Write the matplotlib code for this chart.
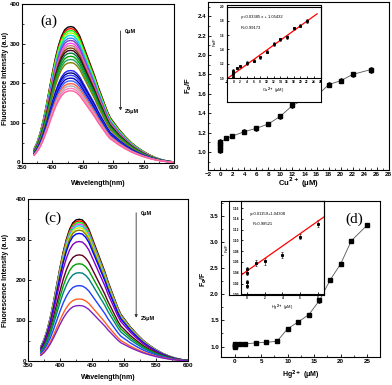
import matplotlib
matplotlib.use("Agg")
import matplotlib.pyplot as plt
from matplotlib.ticker import MultipleLocator, AutoMinorLocator

plt.rcParams['font.family'] = ['Liberation Sans', 'DejaVu Sans']
plt.rcParams['font.weight'] = 'bold'

W, H = 392, 385

# normalised emission profile (peak ~ 430 nm)
wl = [370, 375, 380, 385, 390, 395, 400, 405, 410, 415, 420, 425, 430, 435,
      440, 445, 450, 455, 460, 465, 470, 475, 480, 485, 490, 495, 500, 510,
      520, 530, 540, 550, 560, 570, 580, 590, 600]
shape = [0.10, 0.15, 0.22, 0.31, 0.42, 0.54, 0.66, 0.77, 0.86, 0.93, 0.975,
         0.995, 1.0, 0.995, 0.97, 0.93, 0.87, 0.81, 0.75, 0.69, 0.63, 0.56,
         0.50, 0.44, 0.38, 0.33, 0.30, 0.24, 0.19, 0.145, 0.11, 0.08, 0.055,
         0.035, 0.02, 0.01, 0.004]

# (a) Cu2+ titration peaks
peaks_a = [343, 338, 333, 327, 321, 314, 308, 301, 295, 289, 283, 276, 268,
           260, 252, 232, 226, 220, 213, 206, 199, 193, 187, 181]
colors_a = ['black', 'red', '#00ff00', '#a0ff00', '#00e0e0', '#4080ff',
            '#8040c0', '#ff40ff', '#c08080', '#804000', '#400020', '#008040',
            '#00a000', '#20a060', '#808000', '#2020ff', '#000080', '#3040ff',
            '#0000c0', '#4060ff', '#ff6040', '#b0b0b0', '#ff80c0', '#ff60a0']

# (c) Hg2+ titration peaks
peaks_c = [350, 346, 342, 338, 334, 329, 323, 315, 295, 262, 240, 218, 186,
           153, 137]
colors_c = ['black', 'red', '#00ff00', '#ff40ff', '#00e0e0', '#e0e000',
            '#808000', '#0000ff', '#8000c0', '#600020', '#00a000', '#008080',
            '#2040ff', '#ff6020', '#8020c0']

# (b) F0/F vs Cu2+
xb = [0, 0, 0, 0, 1, 2, 4, 6, 8, 10, 12, 14, 16, 18, 20, 22, 25]
yb = [1.02, 1.05, 1.08, 1.10, 1.14, 1.165, 1.21, 1.245, 1.29, 1.37, 1.48,
      1.545, 1.575, 1.695, 1.735, 1.80, 1.85]
eb = [0.03, 0.03, 0.03, 0.03, 0.02, 0.02, 0.025, 0.025, 0.02, 0.025, 0.025,
      0.02, 0.025, 0.025, 0.025, 0.025, 0.03]
fit_b = (0.03385, 1.05432)

# (d) F0/F vs Hg2+
xd = [0, 0, 0, 0, 1, 2, 4, 6, 8, 10, 12, 14, 16, 18, 20, 22, 25]
yd = [0.99, 1.01, 1.03, 1.05, 1.04, 1.05, 1.07, 1.08, 1.10, 1.34, 1.47, 1.61,
      1.88, 2.27, 2.58, 3.02, 3.32]
ed = [0.04, 0.04, 0.04, 0.04, 0.03, 0.03, 0.03, 0.03, 0.03, 0.04, 0.04, 0.04,
      0.04, 0.04, 0.04, 0.04, 0.04]
xdi = [0, 0, 0, 0, 1, 2, 4, 6, 8]
ydi = [1.016, 1.022, 1.040, 1.046, 1.058, 1.061, 1.073, 1.107, 1.131]
edi = [0.005, 0.005, 0.005, 0.005, 0.005, 0.006, 0.005, 0.005, 0.006]
fit_d = (0.01159, 1.04308)

fig = plt.figure(figsize=(W / 100, H / 100), dpi=100)


def px_axes(l, t, r, b):
    return fig.add_axes([l / W, 1 - b / H, (r - l) / W, (b - t) / H])


def style(ax, size=4.5, length=2.5):
    ax.tick_params(direction='in', labelsize=size, length=length, width=0.6,
                   pad=1.5)
    ax.tick_params(which='minor', direction='in', length=length * 0.6,
                   width=0.5)
    for s in ax.spines.values():
        s.set_linewidth(0.8)
    for lab in ax.get_xticklabels() + ax.get_yticklabels():
        lab.set_fontweight('bold')


def place_labels(ax, xl_y, yl_x, yl_y=0.5):
    # put axis label centres at given axes-fraction positions
    ax.xaxis.set_label_coords(0.5, xl_y)
    ax.yaxis.set_label_coords(yl_x, yl_y)
    ax.xaxis.label.set_va('center')
    ax.yaxis.label.set_va('center')


def spectra(ax, peaks, colors, arrow_x, arrow_top, arrow_bot):
    for p, c in zip(peaks, colors):
        ax.plot(wl, [p * s for s in shape], color=c, lw=1.0)
    ax.set_xlim(350, 600)
    ax.set_ylim(0, 400)
    ax.xaxis.set_major_locator(MultipleLocator(50))
    ax.yaxis.set_major_locator(MultipleLocator(100))
    ax.xaxis.set_minor_locator(AutoMinorLocator(2))
    ax.yaxis.set_minor_locator(AutoMinorLocator(2))
    ax.annotate('', xy=(arrow_x, arrow_bot), xytext=(arrow_x, arrow_top),
                arrowprops=dict(arrowstyle='-|>', color='#333333', lw=0.6,
                                mutation_scale=4))
    ax.text(arrow_x + 7, arrow_top - 8, '0μM', fontsize=4, fontweight='bold',
            va='center')
    ax.text(arrow_x + 7, arrow_bot + 5, '25μM', fontsize=4, fontweight='bold',
            va='center')
    ax.set_xlabel('Wavelength(nm)', fontsize=5, fontweight='bold')
    ax.set_ylabel('Fluorescence Intensity (a.u)', fontsize=5, fontweight='bold')
    style(ax)


# ---- (a)
ax_a = px_axes(22, 4, 174, 162.5)
spectra(ax_a, peaks_a, colors_a, 512, 339, 124)
ax_a.text(395, 356, '(a)', family='Liberation Serif', fontsize=11,
          fontweight='normal', ha='center', va='center')
place_labels(ax_a, -0.13, -0.11, 0.53)

# ---- (c)
ax_c = px_axes(28, 199, 188, 361)
spectra(ax_c, peaks_c, colors_c, 519, 373, 100)
ax_c.text(389, 352, '(c)', family='Liberation Serif', fontsize=11,
          fontweight='normal', ha='center', va='center')
place_labels(ax_c, -0.1, -0.14)


def ratio_plot(ax, x, y, e):
    ax.plot(x, y, color='#555555', lw=0.6, zorder=1)
    ax.errorbar(x, y, yerr=e, fmt='s', color='black', ms=2.2, lw=0.5,
                capsize=1.0, capthick=0.5, zorder=2)


# ---- (b)
ax_b = px_axes(208.3, 1.7, 388.7, 170)
ratio_plot(ax_b, xb, yb, eb)
ax_b.set_xlim(-2, 28)
ax_b.set_ylim(0.815, 2.55)
ax_b.xaxis.set_major_locator(MultipleLocator(2))
ax_b.yaxis.set_major_locator(MultipleLocator(0.2))
ax_b.xaxis.set_minor_locator(AutoMinorLocator(2))
ax_b.yaxis.set_minor_locator(AutoMinorLocator(2))
ax_b.set_xlabel('Cu$^{2+}$ (μM)', fontsize=5.5, fontweight='bold')
ax_b.set_ylabel('F$_o$/F', fontsize=5.5, fontweight='bold')
place_labels(ax_b, -0.077, -0.11)
ax_b.text(13.5, 2.395, '(b)', family='Liberation Serif', fontsize=11,
          fontweight='normal', ha='center', va='center')
style(ax_b)

box_b = px_axes(226.7, 5, 321, 101.7)
box_b.set_xticks([])
box_b.set_yticks([])
box_b.set_zorder(3)
for s in box_b.spines.values():
    s.set_linewidth(0.8)

in_b = px_axes(226.7, 6.7, 320.5, 78)
in_b.set_zorder(4)
in_b.patch.set_alpha(0)
in_b.errorbar(xb[:-1], yb[:-1], yerr=eb[:-1], fmt='s', color='black', ms=1.2,
              lw=0.4, capsize=0.6, capthick=0.4)
in_b.plot([-2, 25], [fit_b[0] * -2 + fit_b[1], fit_b[0] * 25 + fit_b[1]],
          color='red', lw=0.9)
in_b.set_xlim(-2, 26)
in_b.set_ylim(1.0, 2.0)
in_b.xaxis.set_major_locator(MultipleLocator(2))
in_b.yaxis.set_major_locator(MultipleLocator(0.2))
in_b.text(2.2, 1.84, 'y=0.03385 x + 1.05432', fontsize=3, fontweight='normal')
in_b.text(2.2, 1.69, 'R=0.99173', fontsize=3, fontweight='normal')
in_b.set_xlabel('Cu$^{2+}$ (μM)', fontsize=3, fontweight='normal', labelpad=1.5)
in_b.set_ylabel('F$_o$/F', fontsize=3, fontweight='normal', labelpad=1)
style(in_b, size=2.3, length=1.3)

# ---- (d)
ax_d = px_axes(221, 201, 380, 357)
ratio_plot(ax_d, xd, yd, ed)
ax_d.set_xlim(-2.55, 27.4)
ax_d.set_ylim(0.8, 3.78)
ax_d.xaxis.set_major_locator(MultipleLocator(5))
ax_d.yaxis.set_major_locator(MultipleLocator(0.5))
ax_d.xaxis.set_minor_locator(AutoMinorLocator(2))
ax_d.yaxis.set_minor_locator(AutoMinorLocator(2))
ax_d.set_xlabel('Hg$^{2+}$ (μM)', fontsize=5, fontweight='bold')
ax_d.set_ylabel('F$_o$/F', fontsize=5, fontweight='bold')
place_labels(ax_d, -0.115, -0.11)
ax_d.text(22.5, 3.43, '(d)', family='Liberation Serif', fontsize=11,
          fontweight='normal', ha='center', va='center')
style(ax_d)

box_d = px_axes(229, 201, 324.3, 294.5)
box_d.set_xticks([])
box_d.set_yticks([])
box_d.set_zorder(3)
for s in box_d.spines.values():
    s.set_linewidth(0.8)

in_d = px_axes(241, 201, 324.3, 294.3)
in_d.set_zorder(4)
in_d.patch.set_alpha(0)
in_d.errorbar(xdi, ydi, yerr=edi, fmt='s', color='black', ms=1.2, lw=0.4,
              capsize=0.6, capthick=0.4)
in_d.plot([-0.65, 8.7], [fit_d[0] * -0.65 + fit_d[1], fit_d[0] * 8.7 + fit_d[1]],
          color='red', lw=0.9)
in_d.set_xlim(-0.65, 8.7)
in_d.set_ylim(1.0, 1.173)
in_d.xaxis.set_major_locator(MultipleLocator(2))
in_d.yaxis.set_major_locator(MultipleLocator(0.02))
in_d.text(0.4, 1.147, 'y=0.01159+1.04308', fontsize=3, fontweight='normal')
in_d.text(0.6, 1.128, 'R=0.98521', fontsize=3, fontweight='normal')
in_d.set_xlabel('Hg$^{2+}$ (μM)', fontsize=3, fontweight='normal', labelpad=2)
in_d.set_ylabel('F$_o$/F', fontsize=3, fontweight='normal', labelpad=1)
style(in_d, size=2.3, length=1.3)

fig.savefig('out.png', dpi=100)
